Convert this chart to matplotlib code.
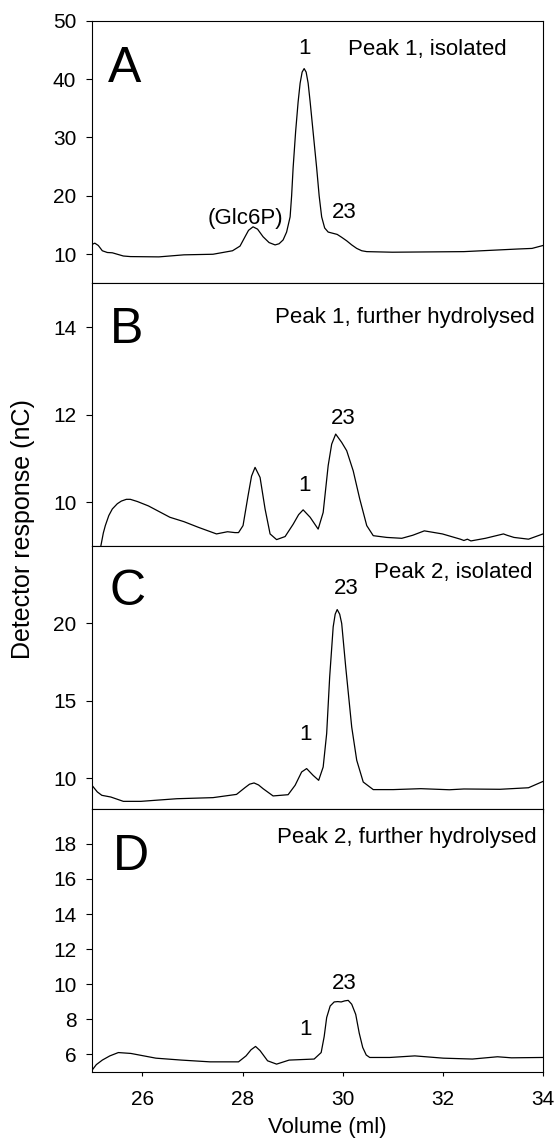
import numpy as np
import matplotlib
matplotlib.use("Agg")
from matplotlib import pyplot as plt

plt.rcParams['font.family'] = ['Liberation Sans', 'DejaVu Sans']

# Panel A - peak 1, isolated
vol_a = [25.00, 25.05, 25.12, 25.20, 25.30, 25.40, 25.50, 25.62, 25.76, 26.33,
         26.83, 27.41, 27.80, 27.95, 28.05, 28.12, 28.21, 28.30, 28.41, 28.53,
         28.65, 28.73, 28.81, 28.88, 28.95, 28.98, 29.01, 29.06, 29.11, 29.15,
         29.19, 29.23, 29.27, 29.31, 29.35, 29.42, 29.48, 29.53, 29.58, 29.64,
         29.71, 29.80, 29.89, 29.98, 30.08, 30.18, 30.28, 30.38, 30.48, 30.99,
         32.42, 33.50, 33.78, 34.00]
resp_a = [11.7, 11.9, 11.5, 10.6, 10.3, 10.25, 10.0, 9.7, 9.6, 9.55,
          9.9, 10.0, 10.6, 11.4, 13.0, 14.1, 14.7, 14.3, 13.0, 12.0,
          11.6, 11.8, 12.45, 13.8, 16.4, 20.0, 24.8, 31.0, 36.1, 39.3,
          41.2, 41.8, 41.2, 39.3, 36.1, 30.0, 24.8, 20.0, 16.4, 14.5,
          13.8, 13.6, 13.4, 12.9, 12.3, 11.6, 11.0, 10.6, 10.45, 10.35,
          10.45, 10.9, 11.0, 11.5]

# Panel B - peak 1, further hydrolysed
vol_b = [25.10, 25.17, 25.22, 25.26, 25.33, 25.40, 25.50, 25.58, 25.68, 25.76,
         25.90, 26.12, 26.55, 26.83, 27.12, 27.48, 27.70, 27.85, 27.92, 28.01,
         28.11, 28.18, 28.25, 28.35, 28.45, 28.55, 28.68, 28.85, 29.01, 29.12,
         29.21, 29.35, 29.51, 29.61, 29.71, 29.78, 29.86, 29.98, 30.08, 30.21,
         30.34, 30.48, 30.61, 30.88, 31.18, 31.40, 31.63, 31.99, 32.35, 32.42,
         32.49, 32.56, 32.85, 33.21, 33.28, 33.42, 33.71, 34.00]
resp_b = [8.6, 9.0, 9.3, 9.47, 9.7, 9.85, 9.97, 10.03, 10.07, 10.07,
          10.02, 9.92, 9.66, 9.56, 9.43, 9.28, 9.33, 9.31, 9.31, 9.47,
          10.15, 10.6, 10.8, 10.57, 9.85, 9.28, 9.15, 9.22, 9.5, 9.72,
          9.83, 9.66, 9.39, 9.77, 10.84, 11.33, 11.56, 11.37, 11.18, 10.72,
          10.08, 9.47, 9.24, 9.2, 9.18, 9.25, 9.35, 9.28, 9.16, 9.13,
          9.16, 9.12, 9.18, 9.28, 9.25, 9.2, 9.16, 9.28]

# Panel C - peak 2, isolated
vol_c = [25.00, 25.10, 25.19, 25.37, 25.62, 25.97, 26.69, 27.41, 27.88, 28.05,
         28.14, 28.23, 28.32, 28.41, 28.61, 28.91, 29.05, 29.18, 29.28, 29.41,
         29.52, 29.61, 29.68, 29.74, 29.81, 29.85, 29.89, 29.94, 29.98, 30.06,
         30.18, 30.28, 30.41, 30.61, 31.01, 31.56, 32.13, 32.42, 33.14, 33.71,
         34.00]
resp_c = [9.5, 9.1, 8.88, 8.77, 8.49, 8.49, 8.66, 8.73, 8.94, 9.38,
          9.6, 9.68, 9.55, 9.31, 8.84, 8.92, 9.53, 10.39, 10.61, 10.17,
          9.85, 10.71, 12.88, 16.54, 19.78, 20.6, 20.9, 20.6, 20.0, 17.19,
          13.3, 11.15, 9.74, 9.25, 9.25, 9.31, 9.24, 9.29, 9.27, 9.37,
          9.78]

# Panel D - peak 2, further hydrolysed
vol_d = [25.00, 25.08, 25.20, 25.35, 25.52, 25.77, 26.27, 26.78, 27.35, 27.92,
         28.07, 28.17, 28.26, 28.35, 28.50, 28.68, 28.93, 29.43, 29.57, 29.63,
         29.68, 29.75, 29.83, 29.90, 29.97, 30.04, 30.11, 30.18, 30.26, 30.33,
         30.40, 30.47, 30.54, 30.94, 31.44, 32.01, 32.59, 33.09, 33.37, 34.00]
resp_d = [5.1, 5.4, 5.66, 5.9, 6.09, 6.04, 5.77, 5.66, 5.56, 5.56,
          5.9, 6.25, 6.44, 6.2, 5.62, 5.43, 5.66, 5.72, 6.09, 7.0,
          8.09, 8.75, 8.98, 9.0, 8.98, 9.04, 9.07, 8.85, 8.27, 7.2,
          6.38, 5.95, 5.81, 5.81, 5.9, 5.77, 5.72, 5.85, 5.79, 5.81]

panel_letters = ['A', 'B', 'C', 'D']
panel_titles = ['Peak 1, isolated', 'Peak 1, further hydrolysed',
                'Peak 2, isolated', 'Peak 2, further hydrolysed']
y_limits = [(5, 50), (9, 15), (8, 25), (5, 20)]
y_ticks = [[10, 20, 30, 40, 50], [10, 12, 14], [10, 15, 20],
           [6, 8, 10, 12, 14, 16, 18]]
x_ticks = [26, 28, 30, 32, 34]

# peak labels (text, volume, response) per panel
peak_labels = [
    [('(Glc6P)', 28.05, 15.25), ('1', 29.23, 44.3), ('23', 30.04, 16.2)],
    [('1', 29.23, 10.27), ('23', 30.02, 11.79)],
    [('1', 29.25, 12.44), ('23', 30.08, 21.9)],
    [('1', 29.25, 7.08), ('23', 30.04, 9.73)],
]

series = [(vol_a, resp_a), (vol_b, resp_b), (vol_c, resp_c), (vol_d, resp_d)]

fig, axes = plt.subplots(4, 1, sharex=True, figsize=(5.57, 11.38), dpi=100)
fig.subplots_adjust(left=0.1657, right=0.9749, top=0.9818, bottom=0.0583,
                    hspace=0)

letter_x = [0.035, 0.038, 0.038, 0.045]
letter_y = [0.768, 0.772, 0.776, 0.768]
title_pos = [(0.568, 0.869, 'left'), (0.981, 0.848, 'right'),
             (0.977, 0.878, 'right'), (0.986, 0.871, 'right')]

for i, ax in enumerate(axes):
    x, y = series[i]
    ax.plot(x, y, color='black', lw=0.9)
    ax.set_xlim(25, 34)
    ax.set_ylim(*y_limits[i])
    ax.set_yticks(y_ticks[i])
    ax.set_xticks(x_ticks)
    ax.tick_params(axis='y', direction='out', length=4, width=0.8,
                   labelsize=15, pad=7.5)
    ax.tick_params(axis='x', direction='out', length=3, width=0.8,
                   labelsize=15, pad=10)
    for s in ax.spines.values():
        s.set_linewidth(0.8)

    ax.text(letter_x[i], letter_y[i], panel_letters[i], transform=ax.transAxes,
            fontsize=36, ha='left', va='baseline')
    tx, ty, tha = title_pos[i]
    ax.text(tx, ty, panel_titles[i], transform=ax.transAxes,
            fontsize=16, ha=tha, va='baseline')
    for label, lx, ly in peak_labels[i]:
        ax.text(lx, ly, label, fontsize=16, ha='center', va='baseline')

fig.text(0.587, 0.0045, 'Volume (ml)', fontsize=16, ha='center',
         va='baseline')
fig.text(0.0404, 1 - 529 / 1138, 'Detector response (nC)', fontsize=18,
         rotation=90, ha='center', va='center')

fig.savefig('out.png', dpi=100)
